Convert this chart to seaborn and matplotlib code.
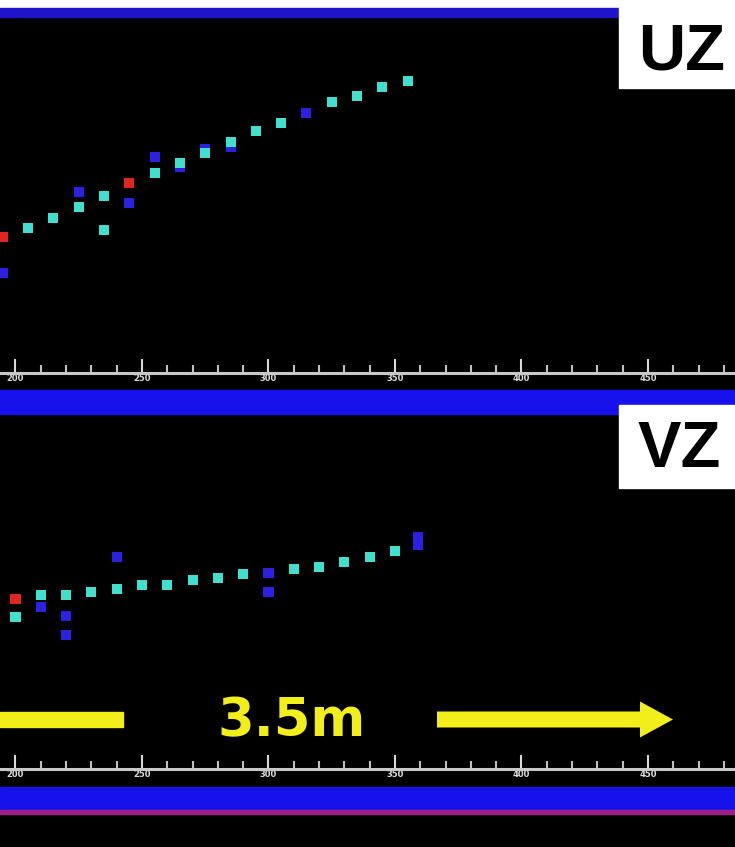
import numpy as np
import pandas as pd
import matplotlib
matplotlib.use("Agg")
import matplotlib.pyplot as plt
from matplotlib.patches import Rectangle, FancyArrow
import seaborn as sns

# ---- hit positions along the beam (cm) and transverse coordinate (cm) ----
uz_track_x = [205, 215, 225, 235, 235, 255, 265, 275, 285, 295, 305, 325, 335, 345, 355]
uz_track_y = [14.5, 15.5, 16.6, 17.7, 14.3, 20.0, 21.0, 22.0, 23.1, 24.2, 25.0, 27.1, 27.7, 28.6, 29.2]
uz_other_x = [195, 225, 245, 255, 265, 275, 285, 315]
uz_other_y = [10.0, 18.1, 17.0, 21.6, 20.6, 22.4, 22.6, 26.0]
uz_hot_x = [195, 245]
uz_hot_y = [13.6, 19.0]

vz_track_x = [200, 210, 220, 230, 240, 250, 260, 270, 280, 290, 310, 320, 330, 340, 350]
vz_track_y = [15.2, 17.4, 17.4, 17.7, 18.0, 18.4, 18.4, 18.9, 19.1, 19.5, 20.0, 20.2, 20.7, 21.2, 21.8]
vz_other_x = [210, 220, 220, 240, 300, 300, 359, 359]
vz_other_y = [16.2, 15.3, 13.4, 21.2, 19.6, 17.7, 23.2, 22.4]
vz_hot_x = [200]
vz_hot_y = [17.0]

tick_values = [200, 250, 300, 350, 400, 450]
tick_labels = ["200", "250", "300", "350", "400", "450"]

palette = {"other": "#2a22e0", "track": "#3fe0cf", "hot": "#e0261e"}
order = ["other", "hot", "track"]


def frame(xs_by_kind, ys_by_kind):
    rows = []
    for kind in order:
        for x, y in zip(xs_by_kind[kind], ys_by_kind[kind]):
            rows.append({"x": x, "y": y, "kind": kind})
    return pd.DataFrame(rows)


uz = frame({"track": uz_track_x, "other": uz_other_x, "hot": uz_hot_x},
           {"track": uz_track_y, "other": uz_other_y, "hot": uz_hot_y})
vz = frame({"track": vz_track_x, "other": vz_other_x, "hot": vz_hot_x},
           {"track": vz_track_y, "other": vz_other_y, "hot": vz_hot_y})

sns.set_style("dark")
W, H = 735, 847
fig = plt.figure(figsize=(W / 100, H / 100), dpi=100, facecolor="black")

# full-figure layer in pixel coordinates for the frame decorations
bg = fig.add_axes([0, 0, 1, 1], zorder=0)
bg.set_xlim(0, W)
bg.set_ylim(H, 0)
bg.set_facecolor("black")
bg.axis("off")

blue = "#1712ec"
bg.add_patch(Rectangle((0, 0), W, 8, color="white"))
bg.add_patch(Rectangle((0, 8), 619, 9, color="#1d14cc"))
bg.add_patch(Rectangle((0, 390), W, 24, color=blue))
bg.add_patch(Rectangle((0, 787), W, 23, color=blue))
bg.add_patch(Rectangle((0, 810), W, 4, color="#a0208a"))

# view labels
bg.add_patch(Rectangle((619, 0), W - 619, 88, color="white"))
bg.add_patch(Rectangle((619, 405), W - 619, 83, color="white"))
bg.text(638, 52, "UZ", color="black", fontsize=47, fontweight="bold",
        family="Liberation Sans", ha="left", va="center")
bg.text(638, 450, "VZ", color="black", fontsize=47, fontweight="bold",
        family="Liberation Sans", ha="left", va="center")

# scale marker
yellow = "#f2ee1a"
bg.add_patch(Rectangle((0, 712), 123, 15, color=yellow))
bg.add_patch(FancyArrow(437, 719.5, 236, 0, width=16, head_width=36,
                        head_length=33, length_includes_head=True,
                        color=yellow, lw=0))
bg.text(292, 721, "3.5m", color=yellow, fontsize=38, fontweight="bold",
        family="DejaVu Sans", ha="center", va="center")

x_left = 200 - 15.5 / 2.53
x_right = x_left + W / 2.53


def panel(top_px, bottom_px, data):
    ax = fig.add_axes([0, 1 - bottom_px / H, 1, (bottom_px - top_px) / H], zorder=1)
    ax.set_facecolor("none")
    sns.scatterplot(data=data, x="x", y="y", hue="kind", palette=palette,
                    hue_order=order, marker="s", s=52, linewidth=0,
                    legend=False, ax=ax)
    ax.set_xlabel("")
    ax.set_ylabel("")
    ax.grid(False)
    for side in ["top", "left", "right"]:
        ax.spines[side].set_visible(False)
    ax.spines["bottom"].set_color("#c8c8c8")
    ax.spines["bottom"].set_linewidth(2.2)
    ax.set_yticks([])
    ax.set_xticks(tick_values)
    ax.set_xticklabels(tick_labels)
    ax.set_xticks(np.arange(160, 500, 10), minor=True)
    ax.set_xlim(x_left, x_right)
    ax.set_ylim(0, (bottom_px - top_px) / 10)
    ax.tick_params(axis="x", which="major", bottom=True, direction="in",
                   length=10, width=1.5, color="#d8d8d8",
                   labelcolor="#dcdcdc", labelsize=6, pad=1)
    ax.tick_params(axis="x", which="minor", bottom=True, direction="in",
                   length=6, width=1.5, color="#c0c0c0")
    for lab in ax.get_xticklabels():
        lab.set_fontweight("bold")
    return ax


panel(17, 373, uz)
panel(415, 769, vz)

fig.savefig("out.png", dpi=100, facecolor="black")
